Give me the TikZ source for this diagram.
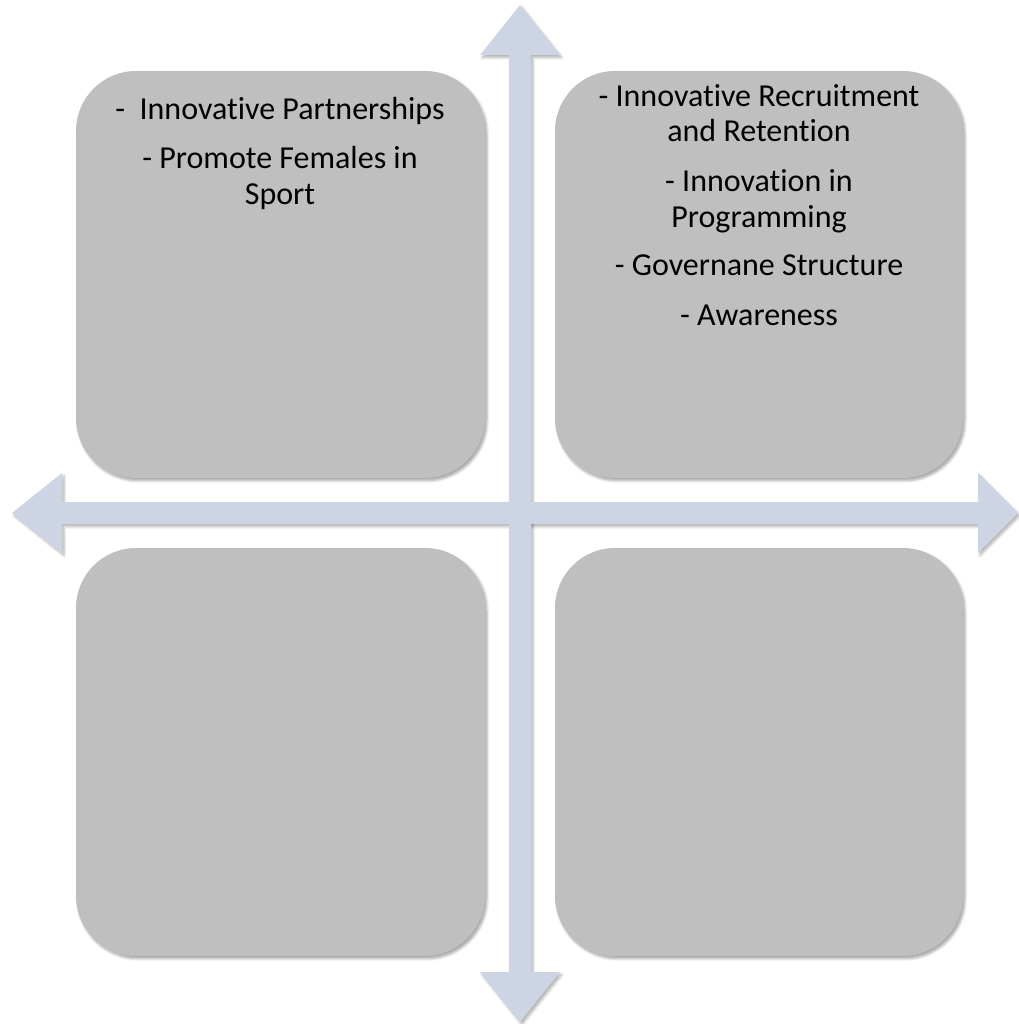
\documentclass[tikz,border=0pt]{standalone}
\usepackage{fontspec}
\setmainfont{Carlito}[Ligatures=NoCommon]
\usetikzlibrary{shadows.blur}

\definecolor{axisblue}{HTML}{CDD5E4}
\definecolor{boxgray}{HTML}{BFBFBF}

\tikzset{
  quadbox/.style={fill=boxgray, rounded corners=45pt,
    blur shadow={shadow xshift=1.5pt, shadow yshift=-2pt, shadow blur steps=6, shadow opacity=35}},
  axisshadow/.style={fill=black, opacity=0, 
    blur shadow={shadow xshift=1.5pt, shadow yshift=-2pt, shadow blur steps=6, shadow opacity=30}},
  axisfill/.style={fill=axisblue},
  % multi-line nodes: the base anchor sits on the last line
  itemtext/.style={anchor=base, align=center, inner sep=0pt,
    font=\fontsize{24}{27}\selectfont},
}

\begin{document}
\begin{tikzpicture}[x=0.75pt, y=-0.75pt]
  \useasboundingbox (0,0) rectangle (1019,1024);

  % quadrant boxes
  \path[quadbox] (76,71) rectangle (485,478);
  \path[quadbox] (555,71) rectangle (963,478);
  \path[quadbox] (76,548) rectangle (485,956);
  \path[quadbox] (555,548) rectangle (963,956);

  % axes: shadows first, then the arrow bodies
  \def\vaxis{(509,55) -- (480,55) -- (520,5) -- (560,55) -- (531,55) -- (531,972)
    -- (560,972) -- (520,1022) -- (480,972) -- (509,972) -- cycle}
  \def\haxis{(62,502) -- (62,473) -- (12,513) -- (62,553) -- (62,524) -- (978,524)
    -- (978,553) -- (1018,513) -- (978,473) -- (978,502) -- cycle}
  \path[axisshadow] \vaxis;
  \path[axisshadow] \haxis;
  \path[axisfill] \vaxis;
  \path[axisfill] \haxis;

  % upper-left items
  \node[itemtext] (ul1) at (280,119) {-\ \ Innovative Partnerships};
  \node[itemtext] (ul2) at (280,204) {- Promote Females in\\Sport};

  % upper-right items
  \node[itemtext] (ur1) at (759,142) {- Innovative Recruitment\\and Retention};
  \node[itemtext] (ur2) at (759,227) {- Innovation in\\Programming};
  \node[itemtext] (ur3) at (759,275) {- Governane Structure};
  \node[itemtext] (ur4) at (759,325) {- Awareness};
\end{tikzpicture}
\end{document}
